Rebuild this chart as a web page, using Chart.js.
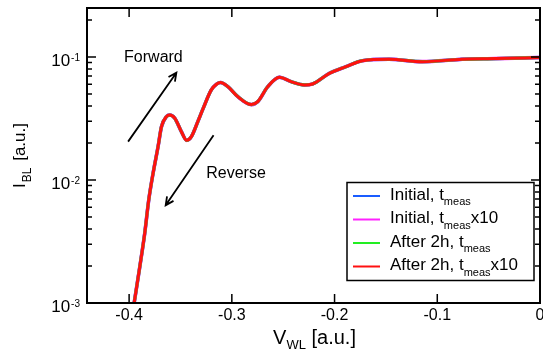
<!DOCTYPE html>
<html lang="en">
<head>
<meta charset="UTF-8">
<title>I_BL vs V_WL</title>
<script src="https://cdn.jsdelivr.net/npm/chart.js"></script>
<style>
    html, body {
        margin: 0;
        padding: 0;
        background: #fff;
    }
    #wrap {
        width: 543px;
        height: 352px;
        position: relative;
    }
</style>
</head>
<body>
<div id="wrap"><canvas id="ivChart"></canvas></div>
<script>
// word line voltage [a.u.] and bit line current [a.u.]
const vwl = [-0.3951, -0.3896, -0.3848, -0.3809, -0.3767, -0.3718, -0.3685, -0.3637, -0.3605, -0.3556,
             -0.3491, -0.3440, -0.3394, -0.3330, -0.3280, -0.3200, -0.3150, -0.3110, -0.3039, -0.2942,
             -0.2810, -0.2748, -0.2650, -0.2537, -0.2423, -0.2294, -0.2214, -0.2051, -0.1889, -0.1728,
             -0.1469, -0.1146, -0.0757, -0.0433, 0.0000];
const ibl = [0.00100, 0.00197, 0.00369, 0.00687, 0.0113, 0.0187, 0.0271, 0.0327, 0.0337, 0.0318,
             0.0247, 0.0210, 0.0225, 0.0300, 0.0380, 0.0540, 0.0600, 0.0620, 0.0574, 0.0476,
             0.0410, 0.0433, 0.0574, 0.0684, 0.0630, 0.0592, 0.0603, 0.0736, 0.0834, 0.0933,
             0.0958, 0.0916, 0.0958, 0.0970, 0.0990];

// legend text: [before subscript, subscript, after subscript]
const seriesNames = [
    ['Initial, t', 'meas', ''],
    ['Initial, t', 'meas', 'x10'],
    ['After 2h, t', 'meas', ''],
    ['After 2h, t', 'meas', 'x10']
];
const seriesColors = ['#1a5cff', '#ff22ff', '#22ee22', '#ff1010'];
const seriesWidths = [3.4, 3.6, 3.2, 3];

const xTicks = [-0.4, -0.3, -0.2, -0.1, 0];
const xTickLabels = ['-0.4', '-0.3', '-0.2', '-0.1', '0'];
const yDecades = [0.001, 0.01, 0.1];
const yExponents = ['-3', '-2', '-1'];

// annotation arrows and text, in data coordinates
const forwardArrow = { from: [-0.401, 0.0205], to: [-0.354, 0.0745] };
const reverseArrow = { from: [-0.3178, 0.0231], to: [-0.3644, 0.00622] };
const forwardText = { x: -0.4049, y: 0.0906, text: 'Forward' };
const reverseText = { x: -0.3249, y: 0.01033, text: 'Reverse' };

const FONT = '"Liberation Sans", Arial, Helvetica, sans-serif';

function arrow(ctx, x1, y1, x2, y2) {
    const ang = Math.atan2(y2 - y1, x2 - x1);
    const head = 9;
    ctx.beginPath();
    ctx.moveTo(x1, y1);
    ctx.lineTo(x2, y2);
    ctx.moveTo(x2 - head * Math.cos(ang - 0.45), y2 - head * Math.sin(ang - 0.45));
    ctx.lineTo(x2, y2);
    ctx.lineTo(x2 - head * Math.cos(ang + 0.45), y2 - head * Math.sin(ang + 0.45));
    ctx.stroke();
}

// draws text pieces [text, size, dy, gap] one after another, returns total width
function pieces(ctx, parts, x, y, measureOnly) {
    let cx = x;
    parts.forEach(p => {
        ctx.font = p[1] + 'px ' + FONT;
        if (!measureOnly) ctx.fillText(p[0], cx, y + p[2]);
        cx += ctx.measureText(p[0]).width + (p[3] || 0);
    });
    return cx - x;
}

const framePlugin = {
    id: 'frame',
    afterDatasetsDraw(chart) {
        const ctx = chart.ctx;
        const a = chart.chartArea;
        const xs = chart.scales.x;
        const ys = chart.scales.y;
        ctx.save();
        ctx.strokeStyle = '#000';
        ctx.fillStyle = '#000';
        ctx.textBaseline = 'alphabetic';

        // inside ticks
        ctx.lineWidth = 1.5;
        ctx.beginPath();
        xTicks.forEach(v => {
            const px = xs.getPixelForValue(v);
            ctx.moveTo(px, a.bottom); ctx.lineTo(px, a.bottom - 9);
            ctx.moveTo(px, a.top); ctx.lineTo(px, a.top + 9);
        });
        yDecades.forEach(d => {
            for (let m = 1; m <= 9; m++) {
                const v = d * m;
                if (v > ys.max) break;
                const py = ys.getPixelForValue(v);
                const len = m === 1 ? 9 : 5;
                ctx.moveTo(a.left, py); ctx.lineTo(a.left + len, py);
                ctx.moveTo(a.right, py); ctx.lineTo(a.right - len, py);
            }
        });
        ctx.stroke();

        // frame
        ctx.lineWidth = 2;
        ctx.strokeRect(a.left, a.top, a.right - a.left, a.bottom - a.top);

        // x tick labels
        ctx.textAlign = 'center';
        ctx.font = '16px ' + FONT;
        xTicks.forEach((v, i) => {
            ctx.fillText(xTickLabels[i], xs.getPixelForValue(v), a.bottom + 17);
        });

        // y tick labels 10^n
        yDecades.forEach((d, i) => {
            const py = ys.getPixelForValue(d);
            ctx.font = '10px ' + FONT;
            ctx.textAlign = 'right';
            ctx.fillText(yExponents[i], a.left - 7, py + 4);
            const w = ctx.measureText(yExponents[i]).width;
            ctx.font = '17px ' + FONT;
            ctx.fillText('10', a.left - 7 - w - 1, py + 9);
        });

        // x title
        ctx.textAlign = 'left';
        const xParts = [['V', 20, 0, 0], ['WL', 13, 5, 0], [' [a.u.]', 20, 0, 0]];
        const xw = pieces(ctx, xParts, 0, 0, true);
        pieces(ctx, xParts, (a.left + a.right) / 2 + 1 - xw / 2, 344, false);

        // y title (rotated)
        ctx.save();
        ctx.translate(25, (a.top + a.bottom) / 2);
        ctx.rotate(-Math.PI / 2);
        const yParts = [['I', 17, 0, 1], ['BL', 12, 6, 2], [' [a.u.]', 17, 0, 0]];
        const yw = pieces(ctx, yParts, 0, 0, true);
        pieces(ctx, yParts, -yw / 2, 0, false);
        ctx.restore();

        // annotations
        ctx.lineWidth = 1.8;
        [forwardArrow, reverseArrow].forEach(ar => {
            arrow(ctx, xs.getPixelForValue(ar.from[0]), ys.getPixelForValue(ar.from[1]),
                  xs.getPixelForValue(ar.to[0]), ys.getPixelForValue(ar.to[1]));
        });
        ctx.font = '16px ' + FONT;
        [forwardText, reverseText].forEach(t => {
            ctx.fillText(t.text, xs.getPixelForValue(t.x), ys.getPixelForValue(t.y));
        });

        // legend
        const lx = 347, ly = 182.5, lw = 187, lh = 98;
        ctx.fillStyle = '#fff';
        ctx.fillRect(lx, ly, lw, lh);
        ctx.lineWidth = 1.5;
        ctx.strokeRect(lx, ly, lw, lh);
        seriesNames.forEach((name, i) => {
            const ry = ly + 13.5 + i * 23.5;
            ctx.strokeStyle = seriesColors[i];
            ctx.lineWidth = 2;
            ctx.beginPath();
            ctx.moveTo(lx + 6, ry);
            ctx.lineTo(lx + 33, ry);
            ctx.stroke();
            ctx.fillStyle = '#000';
            pieces(ctx, [[name[0], 17, 0, 0], [name[1], 11, 5.5, 0], [name[2], 17, 0, 0]], lx + 43, ry + 3.8, false);
        });
        ctx.restore();
    }
};

const datasets = seriesNames.map((name, i) => ({
    label: name.join(' '),
    data: vwl.map((v, k) => ({ x: v, y: ibl[k] })),
    borderColor: seriesColors[i],
    borderWidth: seriesWidths[i],
    pointRadius: 0,
    fill: false,
    cubicInterpolationMode: 'monotone',
    order: seriesNames.length - i
}));

new Chart(document.getElementById('ivChart'), {
    type: 'line',
    data: { datasets: datasets },
    options: {
        responsive: true,
        maintainAspectRatio: false,
        animation: false,
        layout: { padding: { left: 87, top: 8, right: 3, bottom: 49 } },
        plugins: {
            legend: { display: false },
            tooltip: { enabled: false }
        },
        scales: {
            x: { type: 'linear', min: -0.441, max: 0, display: false },
            y: { type: 'logarithmic', min: 0.001, max: 0.25, display: false }
        }
    },
    plugins: [framePlugin]
});
</script>
</body>
</html>
